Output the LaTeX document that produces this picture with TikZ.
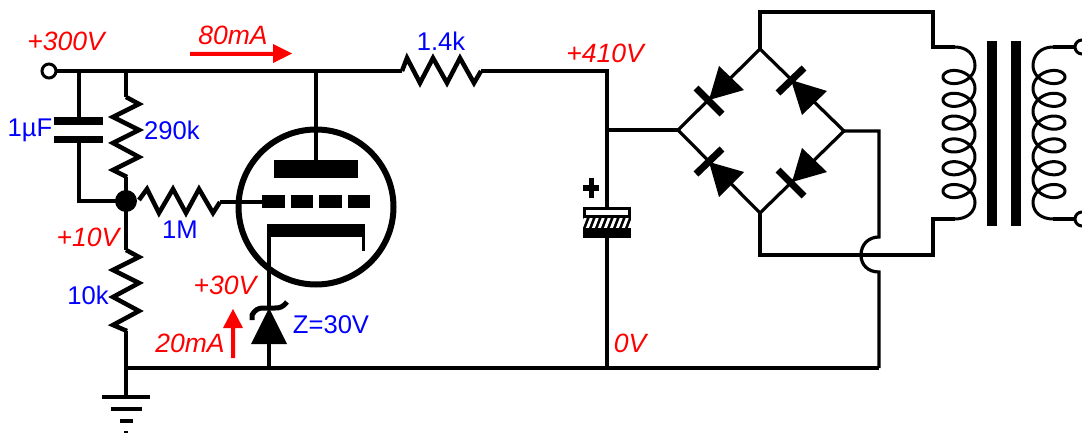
\documentclass[tikz,border=0pt]{standalone}
\usepackage{fontspec}
\setmainfont{Liberation Sans}
\definecolor{lblred}{RGB}{255,0,0}
\definecolor{lblblue}{RGB}{0,0,255}
\tikzset{
  wire/.style={draw=black,line width=3.2pt,line join=miter},
  thickwire/.style={draw=black,line width=4pt},
  zig/.style={draw=black,line width=4.5pt,line join=miter},
  coilline/.style={draw=black,line width=3pt,line join=round},
  solid block/.style={fill=black,draw=none},
  red lbl/.style={text=lblred,font=\fontsize{26.5}{26.5}\selectfont\itshape,inner sep=0pt,anchor=center},
  blue lbl/.style={text=lblblue,font=\fontsize{25.6}{25.6}\selectfont,inner sep=0pt,anchor=center},
  redarrow/.style={fill=lblred,draw=none},
}
\begin{document}
\begin{tikzpicture}[x=1pt,y=-1pt]
\useasboundingbox (0,0) rectangle (1082,433);
% named junctions
\coordinate (term) at (49,71);
\coordinate (capT) at (79,71);
\coordinate (r1T) at (126,71);
\coordinate (plateT) at (316,71);
\coordinate (r3L) at (402,71);
\coordinate (r3R) at (481,71);
\coordinate (corner) at (607,71);
\coordinate (brj) at (607,130);
\coordinate (elT) at (607,207);
\coordinate (elB) at (607,238);
\coordinate (busE) at (607,368);
\coordinate (busR) at (879,368);
\coordinate (busL) at (126,368);
\coordinate (zen) at (269,368);
\coordinate (dL) at (678,130);
\coordinate (dT) at (760,49);
\coordinate (dR) at (844,131);
\coordinate (dB) at (760,213);
\coordinate (dot) at (126,201);
\coordinate (gnd) at (126,397);
% wires
\draw[wire] (term) -- (r3L);
\draw[wire] (r3R) -- (corner) -- (elT);
\draw[thickwire] (elB) -- (busE);
\draw[wire] (capT) -- (79,118);
\draw[wire] (79,143) -- (79,201) -- (dot);
\draw[thickwire] (r1T) -- (126,97);
\draw[thickwire] (126,177) -- (dot) -- (126,250);
\draw[thickwire] (126,331) -- (gnd);
\draw[wire] (busL) -- (busR);
\draw[wire] (plateT) -- (316,160);
\draw[thickwire] (brj) -- (dL);
\draw[thickwire] (607,130) -- (607,207);
% terminal
\node[circle,draw=black,fill=white,line width=3pt,minimum size=14pt,inner sep=0pt] (termc) at (term) {};
% resistors
\draw[zig] (126,97)--(139,104)--(113,117)--(139,130)--(113,143)--(139,157)--(113,170)--(127,177);
\draw[zig] (126,250)--(139,257)--(113,270)--(139,283)--(113,297)--(139,311)--(113,325)--(127,331);
\draw[zig] (139,200)--(147,189)--(159,213)--(173,189)--(186,213)--(199,189)--(213,213)--(220,202);
\draw[zig] (r3L)--(407,58)--(420,83)--(433,58)--(447,83)--(460,58)--(474,83)--(r3R);
\node[circle,fill=black,minimum size=22pt,inner sep=0pt] (dotn) at (dot) {};
% capacitor
\fill[solid block] (54,117.5) rectangle (103,125);
\fill[solid block] (54,136) rectangle (103,143.5);
% tube
\node[circle,draw=black,line width=6pt,minimum size=155pt,inner sep=0pt] (tube) at (316,207) {};
\fill[solid block] (274,160) rectangle (358,178);
\fill[solid block] (262,195) rectangle (285,208);
\fill[solid block] (291,195) rectangle (313,208);
\fill[solid block] (319,195) rectangle (342,208);
\fill[solid block] (348,195) rectangle (370,208);
\draw[wire] (220,202) -- (262,202);
\fill[solid block] (267,224) rectangle (365,237);
\fill[solid block] (362,237) rectangle (365,251);
\draw[wire] (269,237) -- (269,297);
\draw[thickwire] (269,296) -- (269,308);
\draw[wire] (269,344) -- (zen);
% zener
\fill[solid block] (269,308) -- (287,344) -- (251,344) -- cycle;
\draw[black,line width=5pt] (252,320) -- (252,315) .. controls (255,310) and (258,308) .. (263,308) -- (275,308) .. controls (280,308) and (283,307) .. (287,302);
% ground
\fill[solid block] (102,395) rectangle (150,399);
\fill[solid block] (111,407) rectangle (142,411);
\fill[solid block] (120,419) rectangle (133,423);
\fill[solid block] (124,431) rectangle (128,433);
% electrolytic
\draw[black,line width=3pt,fill=white] (584.5,208.5) rectangle (629.5,216.5);
\fill[solid block] (583,217) rectangle (631,238);
\begin{scope}
\clip (583,218) rectangle (631,227);
\foreach \x in {586,592,...,640}{\draw[white,line width=2.8pt] (\x,216) -- (\x-5,229);}
\end{scope}
\fill[solid block] (583,185.5) rectangle (599,191);
\fill[solid block] (588.5,178) rectangle (594,198);
% bridge
\draw[wire,line join=miter] (dL) -- (dT) -- (dR) -- (dB) -- cycle;
\fill[solid block] (709,100) -- (719,66) -- (744,90) -- cycle;
\fill[solid block] (791,80) -- (827,91) -- (802,115) -- cycle;
\fill[solid block] (709,162) -- (744,172) -- (719,197) -- cycle;
\fill[solid block] (792,182) -- (802,148) -- (827,172) -- cycle;
\draw[black,line width=7pt] (696,88) -- (722,114);
\draw[black,line width=7pt] (778,93) -- (804,68);
\draw[black,line width=7pt] (696,174) -- (722,149);
\draw[black,line width=7pt] (778,170) -- (804,196);
% bridge outer wiring
\draw[wire] (dT) -- (760,12) -- (933,12) -- (933,47) -- (955,47);
\draw[wire] (dB) -- (760,255) -- (933,255) -- (933,219) -- (955,219);
\draw[wire] (dR) -- (879,131) -- (879,237) .. controls (868,237) and (861,245) .. (861,255) .. controls (861,265) and (868,272) .. (879,272) -- (busR);
\draw[thickwire] (857,255) -- (886,255);
% transformer
\draw[coilline,domain=0:37.7,samples=300,smooth,variable=\t]
  (955,47) .. controls (967,47) and (975,55) .. (975,65.6)
  plot ({959+16*cos(\t r)},{65.6+3.63*\t+11.7*sin(\t r)})
  (975,202.4) .. controls (975,212) and (967,219) .. (955,219);
\draw[coilline,domain=0:37.7,samples=300,smooth,variable=\t]
  (1053,47) .. controls (1041,47) and (1033,55) .. (1033,65.6)
  plot ({1049-16*cos(\t r)},{65.6+3.63*\t+11.7*sin(\t r)})
  (1033,202.4) .. controls (1033,212) and (1041,219) .. (1053,219);
\fill[solid block] (987,41) rectangle (997,226);
\fill[solid block] (1011,41) rectangle (1021,226);
\coordinate (secT) at (1075,47);
\coordinate (secB) at (1075,219);
\draw[wire] (1053,47) -- (secT);
\draw[wire] (1053,219) -- (secB);
\node[circle,draw=black,fill=white,line width=3pt,minimum size=14pt,inner sep=0pt] (t2) at (1082,47) {};
\node[circle,draw=black,fill=white,line width=3pt,minimum size=14pt,inner sep=0pt] (t3) at (1082,219) {};
% current arrows
\fill[redarrow] (190,52) -- (273,52) -- (273,44) -- (292,53.5) -- (273,63) -- (273,56) -- (190,56) -- cycle;
\fill[redarrow] (231,358) -- (231,328) -- (223,328) -- (233,309) -- (243,328) -- (235,328) -- (235,358) -- cycle;
% labels
\node[red lbl] (l300) at (66,41) {+300V};
\node[red lbl] (l80) at (233,35) {80mA};
\node[red lbl] (l410) at (605,53) {+410V};
\node[red lbl] (l10) at (88,237) {+10V};
\node[red lbl] (l30) at (225,285) {+30V};
\node[red lbl] (l20) at (190,343) {20mA};
\node[red lbl] (l0) at (630,343) {0V};
\node[blue lbl] (v14) at (441,41) {1.4k};
\node[blue lbl] (vc) at (30,130) {1µF};
\node[blue lbl] (v290) at (172,130) {290k};
\node[blue lbl] (v1m) at (180,230) {1M};
\node[blue lbl] (v10) at (88,295) {10k};
\node[blue lbl] (vz) at (331,325) {Z=30V};
\end{tikzpicture}
\end{document}
